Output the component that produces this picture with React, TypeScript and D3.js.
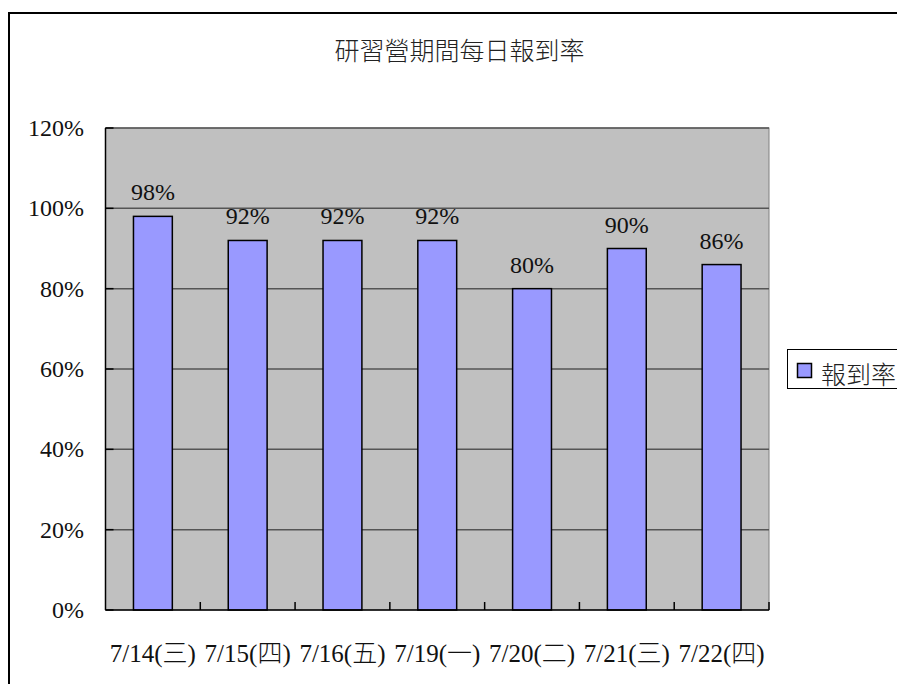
import { useLayoutEffect } from "react";
import * as d3 from "d3";

const categories = [
  "7/14(三)",
  "7/15(四)",
  "7/16(五)",
  "7/19(一)",
  "7/20(二)",
  "7/21(三)",
  "7/22(四)",
];
const rates = [0.98, 0.92, 0.92, 0.92, 0.8, 0.9, 0.86];
const yTicks = [0, 0.2, 0.4, 0.6, 0.8, 1.0, 1.2];
const title = "研習營期間每日報到率";
const seriesName = "報到率";

const serif = "Liberation Serif, DejaVu Serif, Noto Sans CJK TC, serif";
const cjk = "Noto Sans CJK TC, Liberation Serif, sans-serif";

export default function App() {
  const W = 897;
  const H = 684;
  const plot = { left: 105.5, right: 769, top: 128, bottom: 610 };

  // drop the default body margin so the chart fills the window
  useLayoutEffect(() => {
    document.body.style.margin = "0";
    document.body.style.overflow = "hidden";
  }, []);

  const x = d3
    .scaleBand<string>()
    .domain(categories)
    .range([plot.left, plot.right]);
  const y = d3.scaleLinear().domain([0, 1.2]).range([plot.bottom, plot.top]);
  const barW = x.bandwidth() * 0.41;
  const pct = d3.format(".0%");

  return (
    <svg width={W} height={H} style={{ display: "block" }}>
      <rect x={0} y={0} width={W} height={H} fill="#fff" />
      {/* chart area border, runs off the right and bottom */}
      <rect
        x={9}
        y={13}
        width={W + 20}
        height={H + 20}
        fill="none"
        stroke="#000"
        strokeWidth={2}
      />

      <text
        x={459.5}
        y={60}
        textAnchor="middle"
        style={{ fontFamily: cjk, fontSize: 25, fontWeight: 300 }}
        fill="#222"
      >
        {title}
      </text>

      {/* plot area */}
      <rect
        x={plot.left}
        y={plot.top}
        width={plot.right - plot.left}
        height={plot.bottom - plot.top}
        fill="#C0C0C0"
        stroke="#808080"
        strokeWidth={1}
      />

      {/* gridlines */}
      {yTicks.slice(1).map((t) => (
        <line
          key={t}
          x1={plot.left}
          x2={plot.right}
          y1={y(t)}
          y2={y(t)}
          stroke="#555"
          strokeWidth={1.5}
        />
      ))}

      {/* bars */}
      {categories.map((c, i) => {
        const cx = (x(c) ?? 0) + x.bandwidth() / 2;
        return (
          <g key={c}>
            <rect
              x={cx - barW / 2}
              y={y(rates[i])}
              width={barW}
              height={y(0) - y(rates[i])}
              fill="#9999FF"
              stroke="#000"
              strokeWidth={1.5}
            />
            <text
              x={cx}
              y={y(rates[i]) - 16}
              textAnchor="middle"
              style={{ fontFamily: serif, fontSize: 24 }}
              fill="#111"
            >
              {pct(rates[i])}
            </text>
            <text
              x={cx}
              y={662}
              textAnchor="middle"
              style={{ fontFamily: serif, fontSize: 25, fontWeight: 300 }}
              fill="#111"
            >
              {c}
            </text>
          </g>
        );
      })}

      {/* y axis */}
      <line
        x1={plot.left}
        x2={plot.left}
        y1={plot.top}
        y2={plot.bottom}
        stroke="#000"
        strokeWidth={1.5}
      />
      {yTicks.map((t) => (
        <g key={t}>
          <line
            x1={plot.left}
            x2={plot.left + 8}
            y1={y(t)}
            y2={y(t)}
            stroke="#000"
            strokeWidth={1.5}
          />
          <text
            x={84}
            y={y(t)}
            dy="0.34em"
            textAnchor="end"
            style={{ fontFamily: serif, fontSize: 24 }}
            fill="#111"
          >
            {pct(t)}
          </text>
        </g>
      ))}

      {/* x axis */}
      <line
        x1={plot.left}
        x2={plot.right}
        y1={plot.bottom}
        y2={plot.bottom}
        stroke="#000"
        strokeWidth={1.5}
      />
      {categories.map((c) => (
        <line
          key={c}
          x1={(x(c) ?? 0) + x.bandwidth()}
          x2={(x(c) ?? 0) + x.bandwidth()}
          y1={plot.bottom}
          y2={plot.bottom - 8}
          stroke="#000"
          strokeWidth={1.5}
        />
      ))}

      {/* legend */}
      <rect
        x={787.5}
        y={349.5}
        width={140}
        height={39}
        fill="#fff"
        stroke="#000"
        strokeWidth={1}
      />
      <rect
        x={797.5}
        y={363.5}
        width={14}
        height={14}
        fill="#9999FF"
        stroke="#000"
        strokeWidth={1.5}
      />
      <text
        x={821}
        y={384}
        style={{ fontFamily: cjk, fontSize: 25, fontWeight: 300 }}
        fill="#222"
      >
        {seriesName}
      </text>
    </svg>
  );
}
